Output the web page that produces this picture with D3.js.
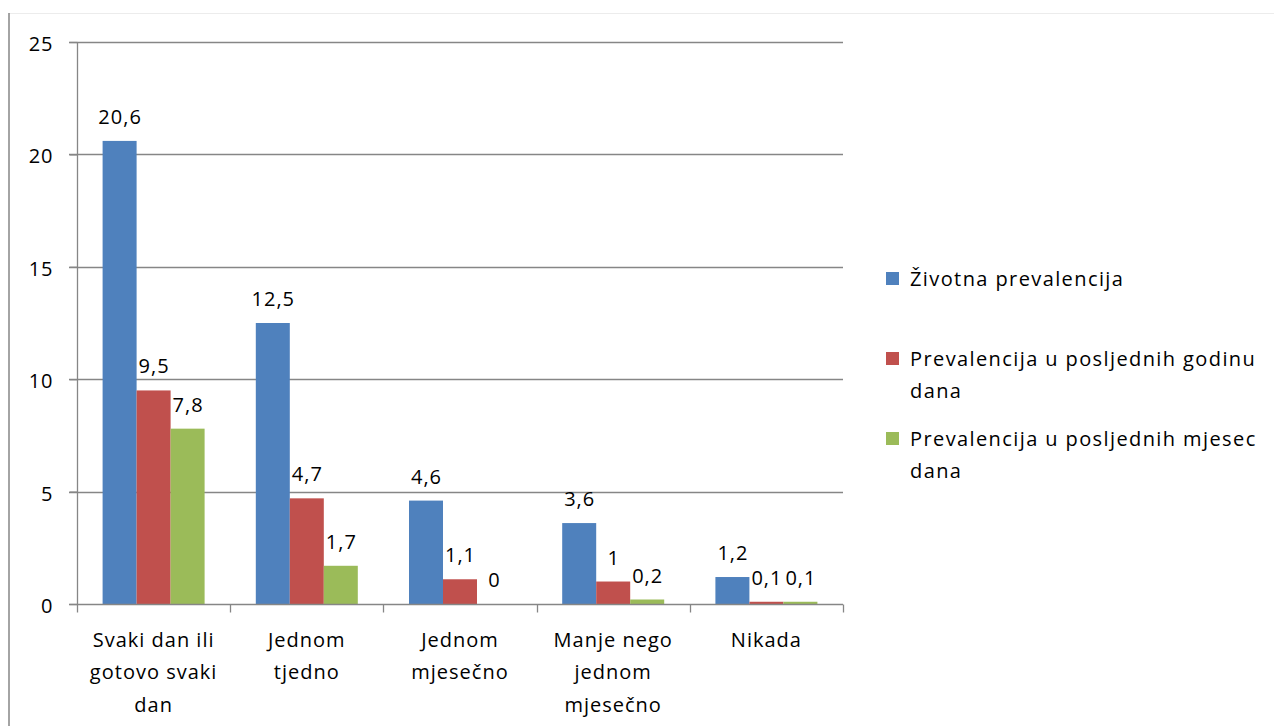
<!DOCTYPE html>
<html>
<head>
<meta charset="utf-8">
<script src="https://cdn.jsdelivr.net/npm/d3@7"></script>
<style>
  body { margin: 0; background: #fff; }
  text { font-family: "Open Sans", "Liberation Sans", sans-serif; fill: #000; letter-spacing: 1px; }
</style>
</head>
<body>
<script>
const width = 1274, height = 726;

const categories = [
  ["Svaki dan ili", "gotovo svaki", "dan"],
  ["Jednom", "tjedno"],
  ["Jednom", "mjesečno"],
  ["Manje nego", "jednom", "mjesečno"],
  ["Nikada"]
];
const seriesNames = [
  ["Životna prevalencija"],
  ["Prevalencija u posljednih godinu", "dana"],
  ["Prevalencija u posljednih mjesec", "dana"]
];
const seriesColors = ["#4F81BD", "#C0504D", "#9BBB59"];
const lifetime = [20.6, 12.5, 4.6, 3.6, 1.2];
const lastYear = [9.5, 4.7, 1.1, 1, 0.1];
const lastMonth = [7.8, 1.7, 0, 0.2, 0.1];
const yTicks = [0, 5, 10, 15, 20, 25];

const series = [lifetime, lastYear, lastMonth];
const fmt = v => String(v).replace(".", ",");
const fs = 20;

const svg = d3.select("body").append("svg")
  .attr("width", width).attr("height", height);

// outer frame lines
svg.append("line").attr("x1", 9).attr("x2", width).attr("y1", 13.5).attr("y2", 13.5)
  .attr("stroke", "#ececec").attr("stroke-width", 1);
svg.append("line").attr("x1", 9).attr("x2", 9).attr("y1", 13).attr("y2", height)
  .attr("stroke", "#868686").attr("stroke-width", 1.5);

const x = d3.scaleBand().domain(d3.range(categories.length)).range([77, 843]);
const y = d3.scaleLinear().domain([0, 25]).range([604, 42]);
const barW = x.bandwidth() * 34 / 153.2;
const gap = (x.bandwidth() - barW * 3) / 2;

// gridlines
svg.append("g").selectAll("line").data(yTicks.filter(d => d > 0)).join("line")
  .attr("x1", 69).attr("x2", 843)
  .attr("y1", d => Math.round(y(d)) + 0.5).attr("y2", d => Math.round(y(d)) + 0.5)
  .attr("stroke", "#868686").attr("stroke-width", 1.3);

// bars
series.forEach((vals, s) => {
  svg.append("g").selectAll("rect").data(vals).join("rect")
    .attr("x", (d, i) => x(i) + gap + s * barW)
    .attr("width", barW)
    .attr("y", d => y(d))
    .attr("height", d => y(0) - y(d))
    .attr("fill", seriesColors[s]);
  svg.append("g").selectAll("text").data(vals).join("text")
    .attr("x", (d, i) => x(i) + gap + s * barW + barW / 2 + 0.5)
    .attr("y", d => y(d) - 17)
    .attr("text-anchor", "middle")
    .attr("font-size", fs)
    .text(fmt);
});

// y axis
const yAxis = svg.append("g").attr("transform", "translate(77.5,0)")
  .call(d3.axisLeft(y).tickValues(yTicks).tickSize(8).tickPadding(16).tickFormat(d => d));
yAxis.select(".domain").attr("stroke", "#868686").attr("stroke-width", 1.3).attr("d", "M0,42V604.5");
yAxis.selectAll(".tick line").attr("stroke", "#868686").attr("stroke-width", 1.3);
yAxis.selectAll(".tick text").attr("font-size", fs).attr("font-family", null).attr("fill", "#000")
  .attr("dy", "0.42em");

// x axis
const xAxis = svg.append("g").attr("transform", "translate(0,604.5)");
xAxis.append("line").attr("x1", 69).attr("x2", 843).attr("stroke", "#868686").attr("stroke-width", 1.3);
xAxis.selectAll(".xt").data(d3.range(categories.length + 1)).join("line")
  .attr("x1", i => Math.round(i < categories.length ? x(i) : x(i - 1) + x.bandwidth()) + 0.5)
  .attr("x2", i => Math.round(i < categories.length ? x(i) : x(i - 1) + x.bandwidth()) + 0.5)
  .attr("y1", 0).attr("y2", 8).attr("stroke", "#868686").attr("stroke-width", 1.3);
const catText = xAxis.selectAll(".cat").data(categories).join("text")
  .attr("x", (d, i) => x(i) + x.bandwidth() / 2)
  .attr("text-anchor", "middle").attr("font-size", fs);
catText.selectAll("tspan").data(d => d).join("tspan")
  .attr("x", function () { return this.parentNode.getAttribute("x"); })
  .attr("y", (d, j) => 42 + j * 32.5)
  .text(d => d);

// legend
const legendY = [272, 352, 432];
const legend = svg.append("g");
seriesNames.forEach((lines, s) => {
  legend.append("rect").attr("x", 886).attr("y", legendY[s]).attr("width", 13).attr("height", 13)
    .attr("fill", seriesColors[s]);
  const t = legend.append("text").attr("font-size", fs).style("letter-spacing", "1.4px");
  lines.forEach((ln, j) => {
    t.append("tspan").attr("x", 910).attr("y", legendY[s] + 14 + j * 32).text(ln);
  });
});
</script>
</body>
</html>
